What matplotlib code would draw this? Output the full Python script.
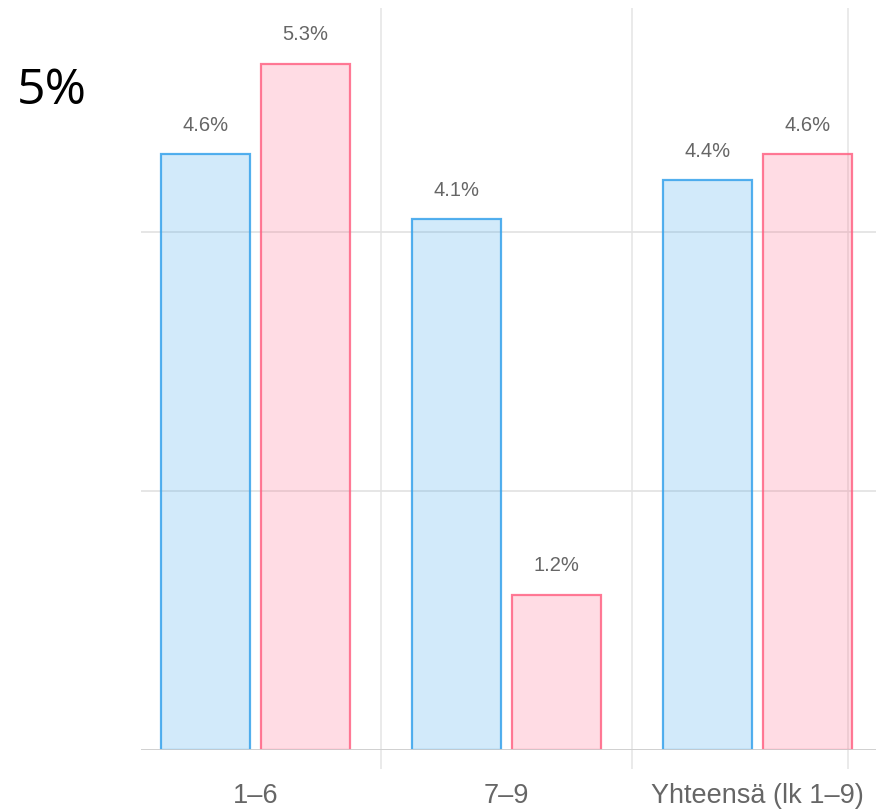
import numpy as np
import matplotlib
matplotlib.use("Agg")
import matplotlib.pyplot as plt

categories = ['1–6', '7–9', 'Yhteensä (lk 1–9)']
blue_values = [4.6, 4.1, 4.4]
pink_values = [5.3, 1.2, 4.6]

plt.rcParams['font.family'] = ['Liberation Sans', 'DejaVu Sans']

fig = plt.figure(figsize=(8.76, 8.09), dpi=100)
ax = fig.add_axes([141 / 876, 1 - 750 / 809, 1 - 141 / 876, (750 - 8) / 809])

x = np.arange(len(categories))
w = 0.355
off = 0.2

b1 = ax.bar(x - off, blue_values, w, color=(54/255, 162/255, 235/255, 0.22),
            edgecolor=(54/255, 162/255, 235/255, 0.85), linewidth=1.6, zorder=3)
b2 = ax.bar(x + off, pink_values, w, color=(255/255, 99/255, 132/255, 0.22),
            edgecolor=(255/255, 99/255, 132/255, 0.85), linewidth=1.6, zorder=3)

# value labels above bars
for bars, vals in ((b1, blue_values), (b2, pink_values)):
    for r, v in zip(bars, vals):
        ax.annotate(f"{v:.1f}%", (r.get_x() + r.get_width() / 2, v),
                    xytext=(0, 14), textcoords='offset points',
                    ha='center', va='bottom', fontsize=14.5, color='#666666')

ax.set_xlim(-0.456, 2.472)
ax.set_ylim(0, 5.73)

ax.set_yticks([0, 2, 4])
ax.set_yticklabels([])
ax.tick_params(axis='y', length=0)
ax.grid(axis='y', color='#e2e2e2', linewidth=1.2, zorder=0)
ax.axhline(0, color='#cfcfcf', linewidth=2, zorder=4)

ax.set_xticks(x)
ax.set_xticklabels(categories, fontsize=19.5, color='#666666')
ax.tick_params(axis='x', which='major', length=0, pad=24)
ax.set_xticks([0.5, 1.5, 2.36], minor=True)
ax.tick_params(axis='x', which='minor', length=14, width=1.2, color='#e6e6e6', direction='out')
ax.grid(axis='x', which='minor', color='#e6e6e6', linewidth=1.2, zorder=0)

for s in ax.spines.values():
    s.set_visible(False)

fig.text(17 / 876, 1 - 104 / 809, '5%', fontsize=36, family=['Open Sans', 'DejaVu Sans'],
         ha='left', va='baseline', color='black')

fig.savefig('out.png', dpi=100)
